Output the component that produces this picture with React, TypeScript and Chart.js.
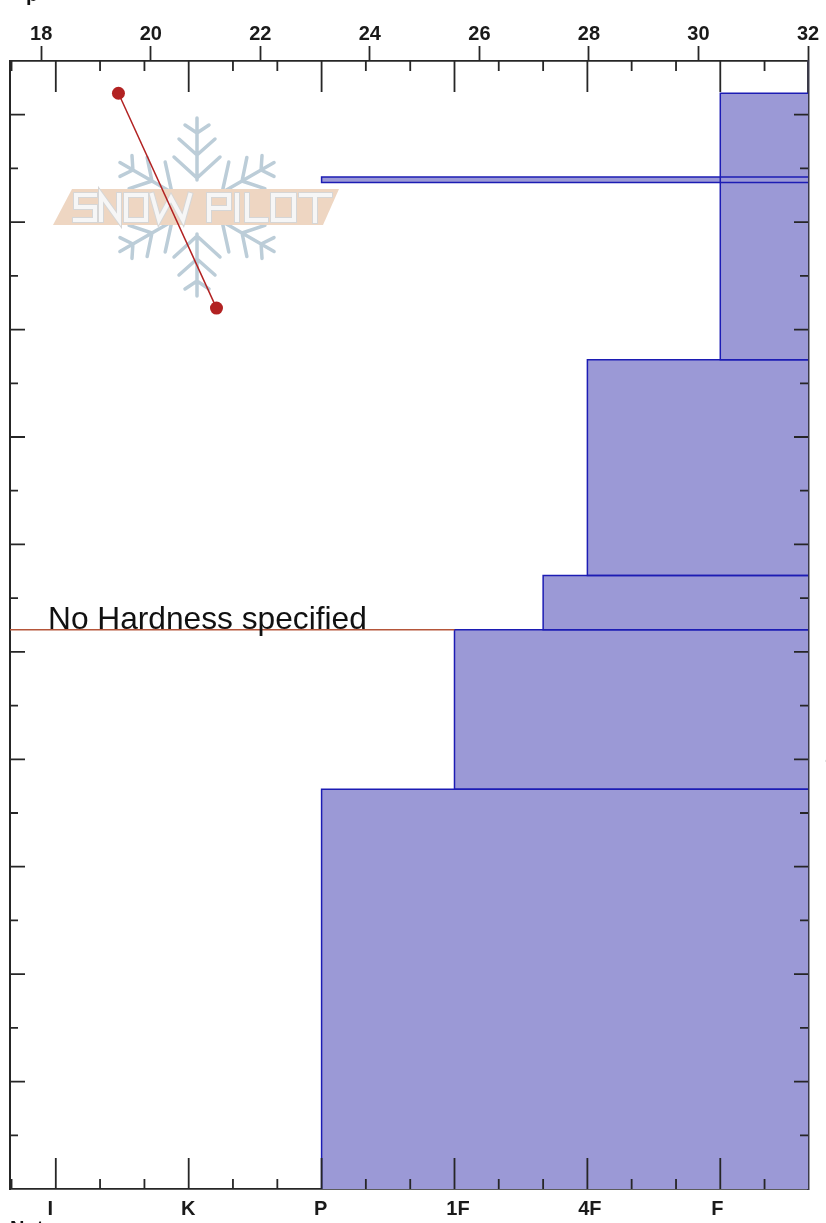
import React, { useEffect, useRef } from "react";
import { Chart, registerables } from "chart.js";

Chart.register(...registerables);

// ---- data ----
const hardnessLabels = ["I", "K", "P", "1F", "4F", "F"];
const hardnessMajorTicks = [0, 1, 2, 3, 4, 5];
const hardnessMinorTicks = [-0.333, 0.333, 0.667, 1.333, 1.667, 2.333, 2.667, 3.333, 3.667, 4.333, 4.667, 5.333];
const depthMajorTicks = [10, 20, 30, 40, 50, 60, 70, 80, 90, 100];
const depthMinorTicks = [5, 15, 25, 35, 45, 55, 65, 75, 85, 95];

const layerTops = [102, 94.2, 77.2, 57.1, 52.06, 37.2];
const layerBottoms = [77.2, 93.7, 57.1, 52.06, 37.2, 0];
const layerHardness = [5, 2, 4, 3.667, 3, 2];

const noHardnessDepth = 52.06;
const noHardnessTo = 3;
const noHardnessLabel = "No Hardness specified";

const tempValues = [19.41, 21.2];
const tempDepths = [102, 82];

const HARD_MIN = -0.3446;
const HARD_MAX = 5.66;
const TEMP_MIN = 17.43;
const TEMP_MAX = 32;
const DEPTH_MIN = 0;
const DEPTH_MAX = 105;

const FF = '"Liberation Sans", Arial, sans-serif';
const AXIS = "#262626";
const FILL = "#9b99d6";
const EDGE = "#1c1cb4";

// small horizontal offsets of the hardness labels relative to their ticks
const HARD_LABEL_SHIFT = [-5.5, -0.5, -1, 3.5, 2.5, -3];

// letter strokes of the watermark, in page units
const logoLetters: number[][][] = [
  [[95, 195], [76, 195], [76, 207], [95, 207], [95, 220], [75, 220]],
  [[101, 220], [101, 195], [119, 220], [119, 195]],
  [[126, 195], [146, 195], [146, 220], [126, 220], [126, 195]],
  [[152, 195], [159, 220], [171, 198], [183, 220], [190, 195]],
  [[209, 220], [209, 195], [229, 195], [229, 208], [209, 208]],
  [[237, 195], [237, 220]],
  [[247, 195], [247, 220], [266, 220]],
  [[273, 195], [294, 195], [294, 220], [273, 220], [273, 195]],
  [[301, 195], [330, 195]],
  [[315, 195], [315, 221]],
];

const drawLogo = (ctx: CanvasRenderingContext2D) => {
  ctx.save();
  ctx.lineCap = "round";
  ctx.lineJoin = "round";
  ctx.strokeStyle = "#bccdd8";
  ctx.lineWidth = 3.5;
  const cx = 197;
  const cy = 207;
  for (let i = 0; i < 6; i++) {
    ctx.save();
    ctx.translate(cx, cy);
    ctx.rotate((i * Math.PI) / 3);
    ctx.beginPath();
    ctx.moveTo(0, -27);
    ctx.lineTo(0, -89);
    const branches = [[29, 23, 50], [52, 18, 68], [74, 12, 82]];
    for (const [a, dx, e] of branches) {
      ctx.moveTo(-dx, -e);
      ctx.lineTo(0, -a);
      ctx.lineTo(dx, -e);
    }
    ctx.stroke();
    ctx.restore();
  }
  ctx.fillStyle = "#eed6c2";
  ctx.beginPath();
  ctx.moveTo(72, 189);
  ctx.lineTo(339, 189);
  ctx.lineTo(323, 225);
  ctx.lineTo(53, 225);
  ctx.closePath();
  ctx.fill();
  ctx.lineCap = "square";
  ctx.lineJoin = "miter";
  for (const [w, c] of [[6, "#d6d6d6"], [4, "#f6f6f6"]] as [number, string][]) {
    ctx.lineWidth = w;
    ctx.strokeStyle = c;
    for (const l of logoLetters) {
      ctx.beginPath();
      l.forEach(([x, y], i) => (i ? ctx.lineTo(x, y) : ctx.moveTo(x, y)));
      ctx.stroke();
    }
  }
  ctx.restore();
};

const logoPlugin = {
  id: "logo",
  beforeDatasetsDraw(chart: any) {
    drawLogo(chart.ctx);
  },
};

const shifted = new WeakSet<object>();
const labelShiftPlugin = {
  id: "labelShift",
  beforeDraw(chart: any) {
    const items = chart.scales.xH.getLabelItems(chart.chartArea);
    if (shifted.has(items)) return;
    shifted.add(items);
    items.forEach((it: any, i: number) => {
      it.options.translation = [it.options.translation[0] + (HARD_LABEL_SHIFT[i] ?? 0), it.options.translation[1]];
    });
  },
};

const innerTicksPlugin = {
  id: "innerTicks",
  afterDatasetsDraw(chart: any) {
    const { ctx, chartArea: a, scales } = chart;
    const xH = scales.xH;
    const y = scales.y;
    const seg = (x1: number, y1: number, x2: number, y2: number) => {
      ctx.moveTo(x1, y1);
      ctx.lineTo(x2, y2);
    };
    ctx.save();
    ctx.strokeStyle = AXIS;
    ctx.lineWidth = 1.8;
    ctx.beginPath();
    hardnessMajorTicks.forEach((v) => {
      const p = xH.getPixelForValue(v);
      seg(p, a.top, p, a.top + 31);
      seg(p, a.bottom, p, a.bottom - 31);
    });
    hardnessMinorTicks.forEach((v) => {
      const p = xH.getPixelForValue(v);
      seg(p, a.top, p, a.top + 10);
      seg(p, a.bottom, p, a.bottom - 10);
    });
    depthMajorTicks.forEach((v) => {
      const p = y.getPixelForValue(v);
      seg(a.left, p, a.left + 15, p);
      seg(a.right, p, a.right - 14, p);
    });
    depthMinorTicks.forEach((v) => {
      const p = y.getPixelForValue(v);
      seg(a.left, p, a.left + 8, p);
      seg(a.right, p, a.right - 8, p);
    });
    ctx.stroke();

    ctx.fillStyle = "#111";
    ctx.textAlign = "left";
    ctx.textBaseline = "alphabetic";
    ctx.font = `31.7px ${FF}`;
    ctx.fillText(noHardnessLabel, 48, y.getPixelForValue(noHardnessDepth) - 1);
    ctx.font = `bold 20px ${FF}`;
    ctx.fillText("p", 26, 1);
    ctx.fillText("Notes", 10, 1235);
    ctx.restore();
  },
};

export default function App() {
  const ref = useRef<HTMLCanvasElement>(null);
  useEffect(() => {
    if (!ref.current) return;
    const fills = layerTops.map((top, i) => ({
      type: "line",
      xAxisID: "xH",
      yAxisID: "y",
      data: [
        { x: layerHardness[i], y: layerBottoms[i] },
        { x: layerHardness[i], y: top },
        { x: HARD_MAX, y: top },
      ],
      borderWidth: 0,
      pointRadius: 0,
      backgroundColor: FILL,
      fill: { value: layerBottoms[i] },
      order: i === 1 ? 20 : 30 + i,
    }));
    const outlines = layerTops.map((top, i) => ({
      type: "line",
      xAxisID: "xH",
      yAxisID: "y",
      data: [
        ...(layerBottoms[i] > 0 ? [{ x: HARD_MAX, y: layerBottoms[i] }] : []),
        { x: layerHardness[i], y: layerBottoms[i] },
        { x: layerHardness[i], y: top },
        { x: HARD_MAX, y: top },
      ],
      borderColor: EDGE,
      borderWidth: 1.5,
      pointRadius: 0,
      fill: false,
      order: 10 + i,
    }));
    const chart = new Chart(ref.current, {
      type: "line",
      data: {
        datasets: [
          ...fills,
          ...outlines,
          {
            type: "line",
            xAxisID: "xH",
            yAxisID: "y",
            data: [
              { x: HARD_MIN, y: noHardnessDepth },
              { x: noHardnessTo, y: noHardnessDepth },
            ],
            borderColor: "#b5563a",
            borderWidth: 1.5,
            pointRadius: 0,
            fill: false,
            order: 5,
          },
          {
            type: "line",
            xAxisID: "xT",
            yAxisID: "y",
            data: tempValues.map((x, i) => ({ x, y: tempDepths[i] })),
            borderColor: "#b22222",
            backgroundColor: "#b22222",
            borderWidth: 1.5,
            pointRadius: 6.5,
            pointBorderWidth: 0,
            fill: false,
            order: 1,
          },
        ] as any,
      },
      options: {
        responsive: false,
        animation: false,
        devicePixelRatio: 1,
        layout: { autoPadding: false, padding: 0 },
        plugins: { legend: { display: false }, tooltip: { enabled: false }, title: { display: false } },
        scales: {
          xT: {
            type: "linear",
            position: "top",
            min: TEMP_MIN,
            max: TEMP_MAX,
            z: 1,
            afterFit: (s: any) => { s.height = 61; },
            border: { display: true, color: AXIS, width: 1.8 },
            grid: { drawOnChartArea: false, drawTicks: true, tickLength: 15, tickWidth: 1.8, tickColor: AXIS },
            ticks: {
              stepSize: 2,
              includeBounds: false,
              padding: 0,
              maxRotation: 0,
              autoSkip: false,
              color: "#1a1a1a",
              font: { family: FF, size: 20, weight: "bold" },
            },
          },
          xH: {
            type: "linear",
            position: "bottom",
            min: HARD_MIN,
            max: HARD_MAX,
            z: 1,
            afterFit: (s: any) => { s.height = 34; },
            border: { display: true, color: AXIS, width: 1.8 },
            grid: { drawOnChartArea: false, drawTicks: false },
            ticks: {
              stepSize: 1,
              includeBounds: false,
              padding: 8,
              maxRotation: 0,
              autoSkip: false,
              color: "#1a1a1a",
              font: { family: FF, size: 20, weight: "bold" },
              callback: (v: any) => hardnessLabels[Math.round(Number(v))] ?? "",
            },
          },
          yL: {
            type: "linear",
            position: "left",
            min: DEPTH_MIN,
            max: DEPTH_MAX,
            z: 1,
            afterFit: (s: any) => { s.width = 10; },
            border: { display: true, color: AXIS, width: 2 },
            grid: { display: false },
            ticks: { display: false },
          },
          y: {
            type: "linear",
            position: "right",
            min: DEPTH_MIN,
            max: DEPTH_MAX,
            z: 1,
            afterFit: (s: any) => { s.width = 18; },
            border: { display: true, color: "#3a3a48", width: 2.5 },
            grid: { drawOnChartArea: false, drawTicks: false },
            ticks: {
              stepSize: 10,
              includeBounds: false,
              padding: 17.5,
              color: "#8a8a8a",
              font: { family: FF, size: 20, weight: "bold" },
            },
          },
        },
      } as any,
      plugins: [labelShiftPlugin, logoPlugin, innerTicksPlugin],
    });
    return () => chart.destroy();
  }, []);
  return (
    <div style={{ position: "absolute", left: 0, top: 0, width: 826, height: 1223, overflow: "hidden", background: "#fff" }}>
      <canvas ref={ref} width={826} height={1223} style={{ display: "block" }} />
    </div>
  );
}
